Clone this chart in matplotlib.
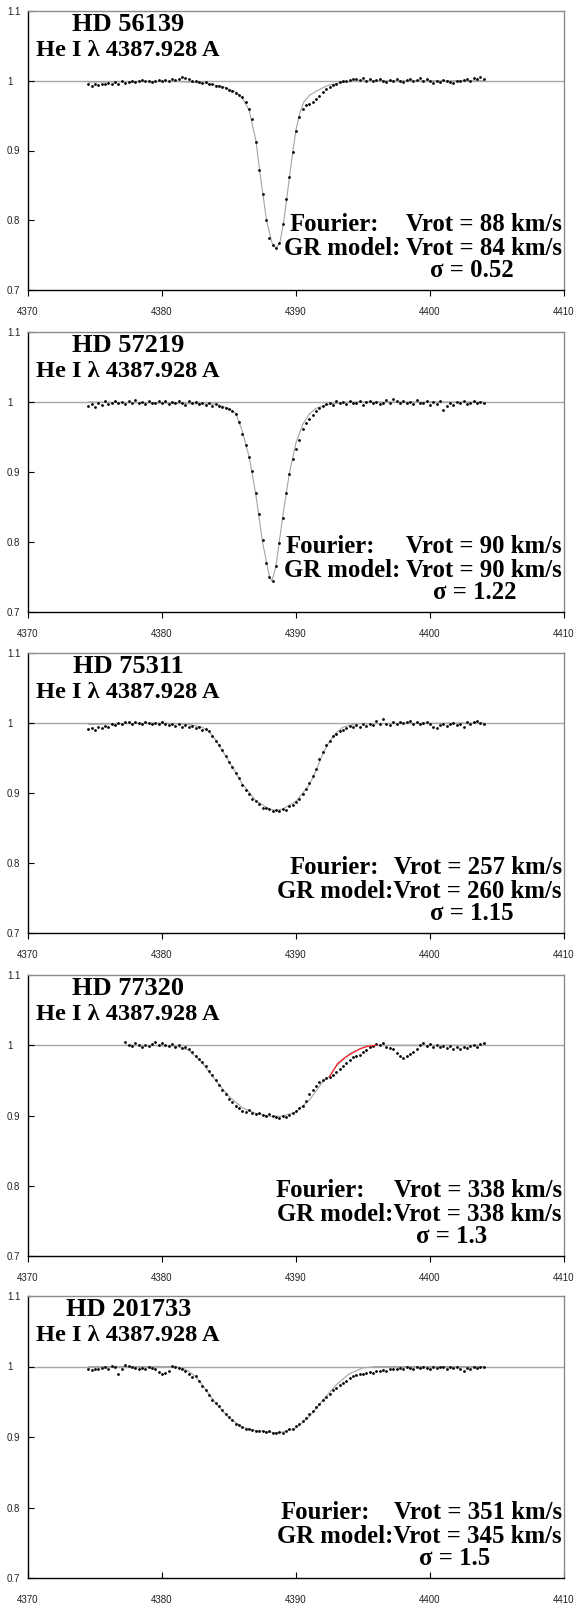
import matplotlib
matplotlib.use('Agg')
import matplotlib.pyplot as plt
import numpy as np

# ---------------- data ----------------
stars = ['HD 56139', 'HD 57219', 'HD 75311', 'HD 77320', 'HD 201733']
line_label = 'He I \u03bb 4387.928 A'
fourier_vrot = [88, 90, 257, 338, 351]
gr_vrot = [84, 90, 260, 338, 345]
sigma_vals = ['0.52', '1.22', '1.15', '1.3', '1.5']
gr_sep = [' ', ' ', '', '', '']

xticks = [4370, 4380, 4390, 4400, 4410]
xticklabels = ['4370', '4380', '4390', '4400', '4410']
yticks = [0.7, 0.8, 0.9, 1.0, 1.1]
yticklabels = ['0.7', '0.8', '0.9', '1', '1.1']

obs_start = [4374.5, 4374.5, 4374.5, 4377.25, 4374.5]
obs_step = 0.25

obs1 = [0.995, 0.993, 0.996, 0.994, 0.996, 0.995, 0.997, 0.996,
        0.998, 0.996, 0.999, 0.997, 0.998, 1.000, 0.998, 0.999,
        1.001, 0.999, 1.000, 0.998, 1.000, 1.001, 0.999, 1.001,
        1.000, 1.002, 1.001, 1.003, 1.006, 1.004, 1.002, 1.000,
        0.999, 0.998, 0.997, 0.998, 0.996, 0.995, 0.993, 0.993,
        0.991, 0.989, 0.987, 0.985, 0.982, 0.980, 0.976, 0.970,
        0.960, 0.945, 0.912, 0.872, 0.838, 0.800, 0.775, 0.764,
        0.760, 0.768, 0.795, 0.830, 0.862, 0.898, 0.928, 0.948,
        0.959, 0.965, 0.967, 0.970, 0.974, 0.978, 0.984, 0.988,
        0.991, 0.994, 0.996, 0.998, 1.000, 0.999, 1.001, 1.002,
        1.003, 1.001, 1.004, 1.000, 1.002, 0.999, 1.001, 1.003,
        1.000, 0.998, 1.001, 0.999, 1.002, 1.000, 0.998, 1.001,
        1.003, 0.999, 1.001, 1.004, 1.000, 1.002, 0.999, 0.997,
        1.000, 0.998, 1.001, 0.999, 0.998, 0.997, 1.000, 0.999,
        1.001, 1.003, 1.000, 1.004, 1.002, 1.006, 1.003]

obs2 = [0.994, 0.997, 0.993, 0.998, 0.996, 1.001, 0.997, 0.999,
        1.002, 0.998, 1.000, 0.997, 1.001, 0.999, 1.003, 0.998,
        1.000, 0.997, 1.001, 0.999, 0.998, 1.002, 0.999, 1.001,
        0.997, 1.000, 0.998, 1.002, 0.999, 0.996, 1.001, 0.998,
        1.000, 0.997, 0.999, 0.996, 0.998, 0.995, 0.997, 0.994,
        0.993, 0.991, 0.990, 0.987, 0.983, 0.972, 0.955, 0.938,
        0.921, 0.902, 0.870, 0.840, 0.803, 0.770, 0.750, 0.745,
        0.765, 0.798, 0.835, 0.870, 0.897, 0.918, 0.933, 0.946,
        0.962, 0.970, 0.976, 0.982, 0.987, 0.992, 0.995, 0.997,
        0.999, 0.996, 1.001, 0.998, 1.000, 0.997, 1.002, 0.999,
        0.998, 1.001, 0.996, 1.000, 1.002, 0.998, 1.000, 0.997,
        0.999, 1.003, 0.998, 1.004, 1.001, 0.998, 1.002, 0.999,
        1.000, 0.997, 1.003, 0.999, 0.998, 1.001, 0.996, 1.000,
        0.997, 1.001, 0.988, 0.995, 0.999, 0.996, 1.000, 0.998,
        1.001, 0.997, 0.999, 1.002, 0.998, 1.000, 0.999]

obs3 = [0.991, 0.993, 0.990, 0.994, 0.993, 0.996, 0.995, 0.998,
        0.997, 1.000, 0.999, 1.002, 1.001, 0.999, 1.002, 1.000,
        0.999, 1.001, 1.000, 0.998, 1.000, 0.999, 1.001, 0.998,
        0.997, 0.999, 0.996, 0.998, 0.995, 0.997, 0.994, 0.996,
        0.993, 0.994, 0.990, 0.991, 0.988, 0.982, 0.975, 0.968,
        0.961, 0.953, 0.944, 0.937, 0.929, 0.921, 0.911, 0.905,
        0.898, 0.892, 0.888, 0.884, 0.879, 0.878, 0.877, 0.875,
        0.876, 0.874, 0.877, 0.876, 0.881, 0.883, 0.887, 0.891,
        0.899, 0.906, 0.915, 0.925, 0.935, 0.948, 0.958, 0.968,
        0.975, 0.981, 0.985, 0.988, 0.990, 0.993, 0.996, 0.995,
        0.997, 0.995, 0.998, 0.996, 0.999, 0.997, 1.003, 0.998,
        1.006, 0.999, 0.997, 1.001, 0.999, 1.002, 1.000, 1.001,
        1.003, 0.999, 1.001, 0.998, 1.000, 1.002, 0.998, 0.994,
        0.993, 0.997, 0.999, 0.996, 0.998, 1.000, 0.997, 0.999,
        0.995, 1.001, 0.999, 1.002, 1.003, 1.000, 0.998]

obs4 = [1.004, 1.001, 0.999, 1.003, 1.000, 0.998, 1.001, 0.999,
        1.002, 1.005, 1.001, 1.003, 1.001, 0.999, 1.002, 0.998,
        1.000, 0.996, 0.998, 0.994, 0.990, 0.985, 0.980, 0.976,
        0.970, 0.963, 0.957, 0.950, 0.944, 0.937, 0.930, 0.924,
        0.919, 0.914, 0.910, 0.906, 0.905, 0.908, 0.904, 0.902,
        0.903, 0.901, 0.899, 0.902, 0.900, 0.898, 0.897, 0.899,
        0.898, 0.901, 0.903, 0.906, 0.910, 0.914, 0.921, 0.930,
        0.936, 0.942, 0.947, 0.951, 0.953, 0.955, 0.958, 0.962,
        0.966, 0.971, 0.975, 0.979, 0.983, 0.984, 0.986, 0.990,
        0.993, 0.997, 0.999, 1.002, 1.001, 1.003, 0.998, 0.996,
        0.994, 0.989, 0.985, 0.982, 0.984, 0.987, 0.990, 0.995,
        1.000, 1.003, 0.999, 1.002, 0.998, 1.000, 0.997, 0.999,
        0.996, 0.999, 0.995, 0.998, 0.994, 0.997, 0.996, 0.999,
        1.000, 0.997, 1.002, 1.003]

obs5 = [0.996, 0.995, 0.997, 0.996, 0.998, 0.999, 0.997, 1.001,
        0.999, 0.990, 0.996, 1.002, 1.001, 0.999, 0.998, 0.997,
        0.998, 0.997, 0.999, 0.998, 0.996, 0.992, 0.989, 0.991,
        0.994, 1.001, 0.999, 0.998, 0.996, 0.993, 0.990, 0.985,
        0.986, 0.979, 0.972, 0.966, 0.960, 0.953, 0.948, 0.944,
        0.939, 0.933, 0.929, 0.924, 0.919, 0.917, 0.914, 0.912,
        0.911, 0.910, 0.909, 0.908, 0.909, 0.907, 0.908, 0.906,
        0.905, 0.907, 0.906, 0.909, 0.911, 0.912, 0.915, 0.918,
        0.922, 0.927, 0.933, 0.937, 0.942, 0.947, 0.952, 0.957,
        0.961, 0.966, 0.970, 0.974, 0.977, 0.980, 0.984, 0.986,
        0.988, 0.989, 0.990, 0.991, 0.992, 0.991, 0.993, 0.994,
        0.995, 0.994, 0.996, 0.997, 0.996, 0.998, 0.997, 0.999,
        0.998, 0.997, 0.999, 0.998, 1.000, 0.998, 0.997, 0.999,
        0.998, 1.000, 0.999, 0.997, 0.999, 0.998, 1.000, 0.996,
        0.994, 0.998, 0.997, 0.999, 0.998, 0.999, 1.000]

model1_wl = [4374.5, 4378, 4381, 4383, 4384.5, 4385.5, 4386, 4386.5, 4387,
             4387.4, 4387.8, 4388.2, 4388.5, 4388.8, 4389.1, 4389.4, 4389.7,
             4390.0, 4390.3, 4390.6, 4391.0, 4391.5, 4392.0, 4392.5, 4393.5,
             4395, 4404]
model1_fl = [0.998, 0.999, 0.999, 0.997, 0.992, 0.984, 0.975, 0.958, 0.915,
             0.855, 0.800, 0.768, 0.760, 0.768, 0.800, 0.845, 0.890,
             0.930, 0.955, 0.970, 0.979, 0.985, 0.990, 0.994, 0.998,
             1.000, 1.000]

model2_wl = [4374.5, 4384, 4385, 4385.5, 4386, 4386.5, 4387, 4387.5, 4388.0,
             4388.2, 4388.5, 4389.0, 4389.5, 4390, 4390.5, 4391, 4391.5,
             4392.5, 4394, 4404]
model2_fl = [1.000, 0.997, 0.991, 0.984, 0.958, 0.922, 0.868, 0.800, 0.752,
             0.744, 0.765, 0.835, 0.898, 0.942, 0.968, 0.983, 0.991,
             0.997, 1.000, 1.000]

model3_wl = [4374.5, 4380, 4382, 4383, 4383.5, 4384, 4385, 4386, 4387, 4388,
             4388.5, 4389, 4390, 4391, 4391.5, 4392, 4392.5, 4393, 4393.5,
             4394.5, 4404]
model3_fl = [0.998, 1.000, 0.998, 0.994, 0.988, 0.976, 0.945, 0.913, 0.889, 0.877,
             0.875, 0.877, 0.888, 0.912, 0.932, 0.956, 0.974, 0.986, 0.994,
             0.999, 1.000]

model4_wl = [4377.25, 4381, 4382, 4383, 4384, 4385, 4386, 4387, 4388, 4389,
             4390, 4391, 4392, 4392.5, 4393, 4394, 4395, 4396, 4404]
model4_fl = [1.000, 0.999, 0.993, 0.975, 0.950, 0.927, 0.911, 0.903, 0.899, 0.899,
             0.905, 0.922, 0.948, 0.956, 0.970, 0.988, 0.997, 1.000, 1.000]

red4_wl = [4392.5, 4393.1, 4393.7, 4394.3, 4394.8, 4395.3, 4396.0]
red4_fl = [0.955, 0.974, 0.983, 0.990, 0.995, 0.9985, 1.000]

model5_wl = [4374.5, 4381, 4381.5, 4382, 4382.5, 4383, 4384, 4385, 4386, 4387,
             4388, 4388.5, 4389, 4390, 4391, 4392, 4393, 4394, 4395, 4396, 4404]
model5_fl = [1.000, 1.000, 0.998, 0.993, 0.986, 0.974, 0.948, 0.927, 0.914, 0.909,
             0.907, 0.906, 0.907, 0.913, 0.929, 0.952, 0.974, 0.990, 0.998, 1.000, 1.000]

observed = [obs1, obs2, obs3, obs4, obs5]
models = [(model1_wl, model1_fl), (model2_wl, model2_fl), (model3_wl, model3_fl),
          (model4_wl, model4_fl), (model5_wl, model5_fl)]

# ---------------- layout ----------------
W, H = 574, 1605
ax_left_px, ax_width_px = 28, 536
panel_tops = [11, 332, 653, 975, 1296]
panel_heights = [279, 280, 280, 281, 282]
xtick_dir = ['out', 'out', 'out', 'out', 'in']
fourier_x = [4389.55, 4389.25, 4389.48, 4388.5, 4388.88]
sigma_x = [4400.0, 4400.2, 4400.0, 4398.95, 4399.2]
right_x = 4409.85
text_y = [0.784, 0.750, 0.718]

serif = 'Liberation Serif'
sans = 'Liberation Sans'

fig = plt.figure(figsize=(W / 100, H / 100), dpi=100)

for i in range(5):
    top, h = panel_tops[i], panel_heights[i]
    ax = fig.add_axes([ax_left_px / W, 1 - (top + h) / H, ax_width_px / W, h / H])
    ax.set_xlim(4370, 4410)
    ax.set_ylim(0.7, 1.1)

    ax.axhline(1.0, color='#a8a8a8', lw=1.0, zorder=1)
    mwl, mfl = models[i]
    ax.plot(mwl, mfl, color='#a4a4a4', lw=0.8, zorder=2)
    obs = observed[i]
    wl = obs_start[i] + obs_step * np.arange(len(obs))
    ax.plot(wl, obs, linestyle='none', color='black', marker='o', ms=2.0, mew=0, zorder=3)
    if i == 3:
        ax.plot(red4_wl, red4_fl, color='#ff2020', lw=0.9, zorder=4)

    for s in ['left', 'bottom']:
        ax.spines[s].set_color('black')
        ax.spines[s].set_linewidth(1.0)
    for s in ['top', 'right']:
        ax.spines[s].set_color('#8c8c8c')
        ax.spines[s].set_linewidth(1.0)

    ax.set_xticks(xticks)
    ax.set_xticklabels(xticklabels, fontfamily=sans, fontsize=7)
    ax.set_yticks(yticks)
    ax.set_yticklabels(yticklabels, fontfamily=sans, fontsize=7)
    xpad = 8.2 if xtick_dir[i] == 'out' else 12.5
    ax.tick_params(axis='x', direction=xtick_dir[i], length=4.3, width=0.8, pad=xpad,
                   labelcolor='#222222')
    ax.tick_params(axis='y', direction='in', length=4.3, width=0.8, pad=15.1,
                   labelcolor='#222222')
    for lbl in ax.get_yticklabels():
        lbl.set_horizontalalignment('left')

    ax.text(0.187, 0.929, stars[i], transform=ax.transAxes, ha='center', va='baseline',
            fontfamily=serif, fontweight='bold', fontsize=19)
    ax.text(0.187, 0.839, line_label, transform=ax.transAxes, ha='center', va='baseline',
            fontfamily=serif, fontweight='bold', fontsize=17.6)

    fs = 17.8
    ax.text(fourier_x[i], text_y[0], 'Fourier:', ha='left', va='baseline',
            fontfamily=serif, fontweight='bold', fontsize=fs)
    ax.text(right_x, text_y[0], f'Vrot = {fourier_vrot[i]} km/s', ha='right', va='baseline',
            fontfamily=serif, fontweight='bold', fontsize=fs)
    ax.text(right_x, text_y[1], f'GR model:{gr_sep[i]}Vrot = {gr_vrot[i]} km/s', ha='right',
            va='baseline', fontfamily=serif, fontweight='bold', fontsize=fs)
    ax.text(sigma_x[i], text_y[2], f'\u03c3 = {sigma_vals[i]}', ha='left', va='baseline',
            fontfamily=serif, fontweight='bold', fontsize=fs)

fig.savefig('out.png', dpi=100, facecolor='white')
